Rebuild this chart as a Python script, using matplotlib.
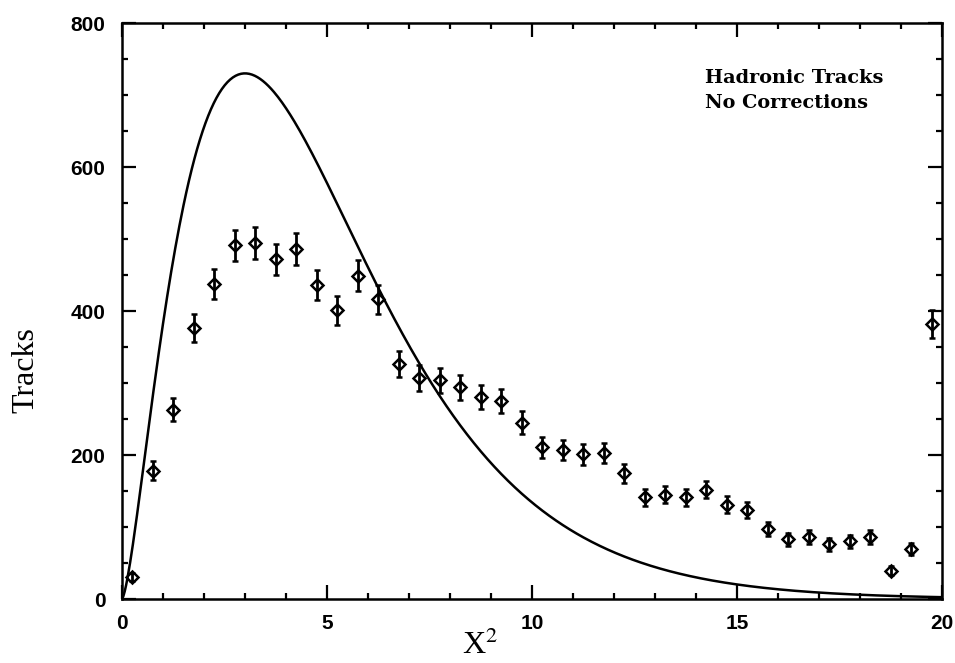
import math
import numpy as np
import matplotlib
matplotlib.use("Agg")
import matplotlib.pyplot as plt
from matplotlib.ticker import MultipleLocator

# Binned chi-square values of hadronic tracks (bin width 0.5, last bin holds overflow)
bin_centers = [0.25, 0.75, 1.25, 1.75, 2.25, 2.75, 3.25, 3.75, 4.25, 4.75,
               5.25, 5.75, 6.25, 6.75, 7.25, 7.75, 8.25, 8.75, 9.25, 9.75,
               10.25, 10.75, 11.25, 11.75, 12.25, 12.75, 13.25, 13.75, 14.25, 14.75,
               15.25, 15.75, 16.25, 16.75, 17.25, 17.75, 18.25, 18.75, 19.25, 19.75]
track_counts = [31, 178, 263, 376, 438, 491, 494, 472, 486, 436,
                401, 449, 416, 327, 307, 304, 294, 280, 275, 245,
                211, 207, 201, 203, 175, 141, 145, 141, 152, 131,
                123, 97, 83, 86, 76, 80, 86, 39, 70, 382]
count_errors = [5.6, 13.3, 16.2, 19.4, 20.9, 22.2, 22.2, 21.7, 22.0, 20.9,
                20.0, 21.2, 20.4, 18.1, 17.5, 17.4, 17.1, 16.7, 16.6, 15.7,
                14.5, 14.4, 14.2, 14.2, 13.2, 11.9, 12.0, 11.9, 12.3, 11.4,
                11.1, 9.8, 9.1, 9.3, 8.7, 8.9, 9.3, 6.2, 8.4, 19.5]

# Expected chi-square distribution for the track fit
dof = 5
n_tracks = 9470
bin_width = 0.5

x_ticks = [0, 5, 10, 15, 20]
y_ticks = [0, 200, 400, 600, 800]


def chi2_pdf(x, k):
    return x ** (k / 2 - 1) * np.exp(-x / 2) / (2 ** (k / 2) * math.gamma(k / 2))


fig = plt.figure(figsize=(9.55, 6.63), dpi=100)
ax = fig.add_axes([0.1277, 0.0965, 0.9864 - 0.1277, 0.9653 - 0.0965])

xs = np.linspace(0, 20, 600)
ax.plot(xs, n_tracks * bin_width * chi2_pdf(xs, dof), color="black", lw=1.8)

ax.errorbar(bin_centers, track_counts, yerr=count_errors, fmt="D", ms=6.5,
            mfc="none", mec="black", mew=1.8, ecolor="black", elinewidth=2.0,
            capsize=2.2, capthick=2.0, color="black", zorder=3)

ax.set_xlim(0, 20)
ax.set_ylim(0, 800)
ax.set_xticks(x_ticks)
ax.set_yticks(y_ticks)
ax.xaxis.set_minor_locator(MultipleLocator(1))
ax.yaxis.set_minor_locator(MultipleLocator(50))
ax.tick_params(which="both", direction="in", top=True, right=True, width=1.6,
               labelsize=15)
ax.tick_params(axis="x", pad=11)
ax.tick_params(axis="y", pad=12)
ax.tick_params(which="major", length=10)
ax.tick_params(which="minor", length=4)
for lab in ax.get_xticklabels() + ax.get_yticklabels():
    lab.set_fontweight("bold")
    lab.set_family("Liberation Sans")
for sp in ax.spines.values():
    sp.set_linewidth(1.8)

ax.set_ylabel("Tracks", family="Liberation Serif", fontsize=23)
ax.yaxis.set_label_coords(-0.100, 0.397)
ax.set_xlabel(r"X$^2$", family="Liberation Serif", fontsize=23)
ax.xaxis.label.set_math_fontfamily("stix")
ax.xaxis.set_label_coords(0.437, -0.055)

ax.text(0.711, 0.895, "Hadronic Tracks", transform=ax.transAxes,
        family="DejaVu Serif", fontweight="bold", fontsize=13.9)
ax.text(0.711, 0.853, "No Corrections", transform=ax.transAxes,
        family="DejaVu Serif", fontweight="bold", fontsize=13.9)

fig.savefig("out.png", dpi=100)
